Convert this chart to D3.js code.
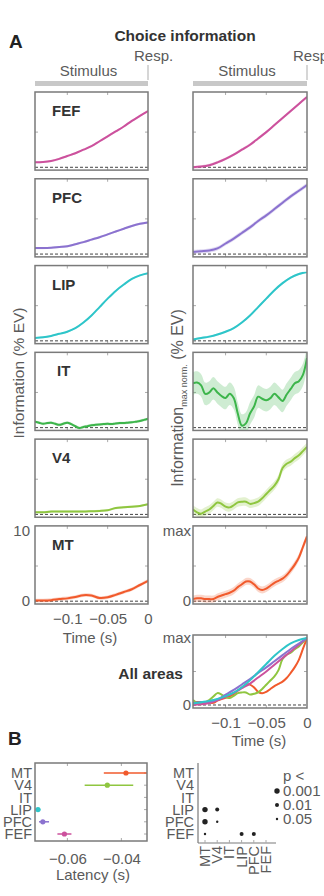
<!DOCTYPE html>
<html>
<head>
<meta charset="utf-8">
<script src="https://cdn.jsdelivr.net/npm/d3@7"></script>
<style>
  body { margin: 0; background: #fff; }
  text { font-family: "Liberation Sans", Arial, sans-serif; }
</style>
</head>
<body>
<svg id="chart" width="324" height="896"></svg>
<script>
// areas, top to bottom in panel A
var areas = ["FEF", "PFC", "LIP", "IT", "V4", "MT"];
var areaColors = ["#cc519d", "#8b72cf", "#2ec5c9", "#3db54b", "#8fc640", "#f15a2c"];

// time (s) relative to response
var timeCoarse = [-0.14, -0.13, -0.12, -0.11, -0.10, -0.09, -0.08, -0.07, -0.06, -0.05, -0.04, -0.03, -0.02, -0.01, 0];
var timeFine = [-0.14, -0.135, -0.13, -0.125, -0.12, -0.115, -0.11, -0.105, -0.10, -0.095, -0.09, -0.085, -0.08, -0.075,
    -0.07, -0.065, -0.06, -0.055, -0.05, -0.045, -0.04, -0.035, -0.03, -0.025, -0.02, -0.015, -0.01, -0.005, 0];
var timeTicks = [-0.1, -0.05, 0];

// choice information, % explained variance (left column)
var fefEV = [0.7, 0.75, 0.9, 1.2, 1.6, 2.0, 2.5, 3.0, 3.7, 4.4, 5.1, 5.8, 6.6, 7.3, 8.0];
var pfcEV = [0.85, 0.85, 0.9, 1.0, 1.1, 1.4, 1.7, 2.05, 2.4, 2.8, 3.2, 3.6, 4.0, 4.3, 4.5];
var lipEV = [0.4, 0.5, 0.7, 1.0, 1.3, 1.8, 2.6, 3.6, 4.8, 6.0, 7.1, 8.0, 8.8, 9.3, 9.6];
var itEV = [0.85, 0.7, 0.55, 0.65, 0.7, 0.55, 0.4, 0.55, 0.7, 0.5, 0.2, -0.05, 0.1, 0.2, 0.35,
    0.4, 0.45, 0.5, 0.55, 0.5, 0.6, 0.65, 0.65, 0.7, 0.75, 0.85, 0.95, 1.1, 1.25];
var v4EV = [0.3, 0.3, 0.4, 0.4, 0.4, 0.4, 0.4, 0.45, 0.5, 0.6, 0.9, 1.0, 1.1, 1.2, 1.45];
var mtEV = [0.1, 0.1, 0.15, 0.3, 0.4, 0.6, 0.85, 0.8, 0.45, 0.55, 0.9, 1.3, 1.7, 2.3, 2.9];
var bandEV = [0.15, 0.15, 0.12, 0.2, 0.15, 0.25];

// information normalised to its max (right column)
var fefNorm = [0, 0.01, 0.03, 0.07, 0.12, 0.18, 0.25, 0.32, 0.41, 0.5, 0.6, 0.7, 0.8, 0.9, 1.0];
var pfcNorm = [0.03, 0.04, 0.05, 0.08, 0.15, 0.22, 0.3, 0.38, 0.47, 0.55, 0.64, 0.73, 0.82, 0.9, 0.98];
var lipNorm = [0.02, 0.04, 0.06, 0.09, 0.13, 0.18, 0.26, 0.36, 0.48, 0.6, 0.72, 0.82, 0.9, 0.95, 0.98];
var itNorm = [0.63, 0.64, 0.6, 0.48, 0.5, 0.56, 0.5, 0.45, 0.42, 0.48, 0.42, 0.2, 0.03, 0.06, 0.2,
    0.3, 0.44, 0.41, 0.39, 0.42, 0.48, 0.43, 0.38, 0.47, 0.55, 0.63, 0.66, 0.75, 0.99];
var v4Norm = [0.07, 0.03, 0.01, 0.04, 0.07, 0.12, 0.17, 0.15, 0.11, 0.1, 0.13, 0.17, 0.18, 0.18, 0.15,
    0.16, 0.18, 0.23, 0.29, 0.35, 0.41, 0.5, 0.66, 0.72, 0.75, 0.8, 0.84, 0.9, 0.96];
var mtNorm = [0.03, 0.04, 0.04, 0.03, 0.03, 0.03, 0.06, 0.08, 0.1, 0.12, 0.15, 0.2, 0.24, 0.28, 0.28,
    0.24, 0.18, 0.16, 0.18, 0.22, 0.26, 0.29, 0.32, 0.37, 0.44, 0.52, 0.62, 0.77, 0.92];
var bandNorm = [0.02, 0.03, 0.015, 0.16, 0.06, 0.05];

// areas overlaid in the "All areas" panel, back to front
var allAreas = ["MT", "V4", "FEF", "PFC", "LIP"];

// panel B: latency (s), rows top to bottom
var latRows = ["MT", "V4", "IT", "LIP", "PFC", "FEF"];
var latencyMean = [-0.0383, -0.0452, null, -0.0709, -0.0691, -0.0611];
var latencyLo = [-0.0465, -0.0536, null, -0.0716, -0.0705, -0.0637];
var latencyHi = [-0.0280, -0.0356, null, -0.0700, -0.0668, -0.0585];
var latencyTicks = [-0.06, -0.04];

// panel B: pairwise latency differences
var sigRow = ["LIP", "LIP", "PFC", "PFC", "FEF", "FEF", "FEF"];
var sigCol = ["MT", "V4", "MT", "V4", "MT", "LIP", "PFC"];
var sigP = [0.001, 0.01, 0.001, 0.05, 0.05, 0.01, 0.01];
var legendP = [0.001, 0.01, 0.05];
var legendLabel = ["0.001", "0.01", "0.05"];

var textGray = "#5a5a5a";
var boxGray = "#7a7a7a";

var evSeries = {
    FEF: {t: timeCoarse, v: fefEV}, PFC: {t: timeCoarse, v: pfcEV}, LIP: {t: timeCoarse, v: lipEV},
    IT: {t: timeFine, v: itEV}, V4: {t: timeCoarse, v: v4EV}, MT: {t: timeCoarse, v: mtEV}
};
var normSeries = {
    FEF: {t: timeCoarse, v: fefNorm}, PFC: {t: timeCoarse, v: pfcNorm}, LIP: {t: timeCoarse, v: lipNorm},
    IT: {t: timeFine, v: itNorm}, V4: {t: timeFine, v: v4Norm}, MT: {t: timeFine, v: mtNorm}
};
var color = d3.scaleOrdinal().domain(areas).range(areaColors);
var plainFormat = d3.format("");

var svg = d3.select("#chart");

//scales for panel A
var xLeft = d3.scaleLinear().domain([-0.14, 0]).range([35, 148]);
var xRight = d3.scaleLinear().domain([-0.14, 0]).range([193, 307]);
var rowScale = d3.scaleBand().domain(areas).range([92, 604]).paddingInner(0.1);
var panelH = rowScale.bandwidth();
var yEV = d3.scaleLinear().domain([-0.4, 10.7]).range([panelH, 0]);
var yNorm = d3.scaleLinear().domain([-0.04, 1.07]).range([panelH, 0]);

var clipCount = 0;

//draws one time course panel: border, ticks, chance line, sem band and mean line
function drawPanel(g, x, y, h, list, midTick) {
    var x0 = x.range()[0], x1 = x.range()[1];
    var id = "clip" + (clipCount++);
    g.append("clipPath").attr("id", id)
        .append("rect")
        .attr("x", x0).attr("y", 0)
        .attr("width", x1 - x0).attr("height", h);

    //small inner ticks
    [-0.1, -0.05].forEach(function(t) {
        g.append("line").attr("x1", x(t)).attr("x2", x(t)).attr("y1", 0).attr("y2", 3)
            .attr("stroke", "#aaa").attr("stroke-width", 1);
        g.append("line").attr("x1", x(t)).attr("x2", x(t)).attr("y1", h).attr("y2", h - 3)
            .attr("stroke", "#aaa").attr("stroke-width", 1);
    });
    g.append("line").attr("x1", x0).attr("x2", x0 + 3).attr("y1", y(midTick)).attr("y2", y(midTick))
        .attr("stroke", "#aaa");
    g.append("line").attr("x1", x1).attr("x2", x1 - 3).attr("y1", y(midTick)).attr("y2", y(midTick))
        .attr("stroke", "#aaa");

    //chance level
    g.append("line")
        .attr("x1", x0).attr("x2", x1)
        .attr("y1", y(0)).attr("y2", y(0))
        .attr("stroke", "#444")
        .attr("stroke-width", 1)
        .attr("stroke-dasharray", "3,2");

    var inner = g.append("g").attr("clip-path", "url(#" + id + ")");
    list.forEach(function(s) {
        var pts = s.t.map(function(t, i) { return {t: t, v: s.v[i]}; });
        if (s.band) {
            inner.append("path")
                .datum(pts)
                .attr("fill", s.color)
                .attr("fill-opacity", 0.25)
                .attr("d", d3.area()
                    .curve(d3.curveCatmullRom)
                    .x(function(d) { return x(d.t); })
                    .y0(function(d) { return y(d.v - s.band); })
                    .y1(function(d) { return y(d.v + s.band); }));
        }
        inner.append("path")
            .datum(pts)
            .attr("fill", "none")
            .attr("stroke", s.color)
            .attr("stroke-width", 2)
            .attr("d", d3.line()
                .curve(d3.curveCatmullRom)
                .x(function(d) { return x(d.t); })
                .y(function(d) { return y(d.v); }));
    });

    g.append("rect")
        .attr("x", x0).attr("y", 0)
        .attr("width", x1 - x0).attr("height", h)
        .attr("fill", "none")
        .attr("stroke", boxGray)
        .attr("stroke-width", 1.5);
}

//header of panel A
svg.append("text").attr("x", 9).attr("y", 48)
    .attr("font-size", 19).attr("font-weight", "bold").attr("fill", "#222").text("A");
svg.append("text").attr("x", 185).attr("y", 41).attr("text-anchor", "middle")
    .attr("font-size", 15.5).attr("font-weight", "bold").attr("fill", "#333").text("Choice information");

[xLeft, xRight].forEach(function(x) {
    var x0 = x.range()[0], x1 = x.range()[1];
    svg.append("text").attr("x", (x0 + x1) / 2 - 3).attr("y", 76).attr("text-anchor", "middle")
        .attr("font-size", 15).attr("fill", textGray).text("Stimulus");
    svg.append("text").attr("x", x1 - 14).attr("y", 61)
        .attr("font-size", 15).attr("fill", textGray).text("Resp.");
    svg.append("line").attr("x1", x1).attr("x2", x1).attr("y1", 65).attr("y2", 80)
        .attr("stroke", "#c8c8c8").attr("stroke-width", 1.5);
    svg.append("rect").attr("x", x0).attr("y", 81).attr("width", x1 - x0).attr("height", 5)
        .attr("fill", "#c8c8c8");
});

//the six area panels, both columns
areas.forEach(function(a, i) {
    var top = rowScale(a);
    var gl = svg.append("g").attr("transform", "translate(0," + top + ")");
    drawPanel(gl, xLeft, yEV, panelH,
        [{t: evSeries[a].t, v: evSeries[a].v, band: bandEV[i], color: color(a)}], 5);
    gl.append("text").attr("x", xLeft(-0.14) + (a == "IT" ? 22 : 17)).attr("y", 24)
        .attr("font-size", 15).attr("font-weight", "bold").attr("fill", "#333").text(a);

    var gr = svg.append("g").attr("transform", "translate(0," + top + ")");
    drawPanel(gr, xRight, yNorm, panelH,
        [{t: normSeries[a].t, v: normSeries[a].v, band: bandNorm[i], color: color(a)}], 0.5);
});

//y ticks on the bottom (MT) panels
var mtTop = rowScale("MT");
var axL = svg.append("g").attr("transform", "translate(" + xLeft.range()[0] + "," + mtTop + ")")
    .call(d3.axisLeft(yEV).tickValues([0, 10]).tickSize(0).tickPadding(5));
var axR = svg.append("g").attr("transform", "translate(" + xRight.range()[0] + "," + mtTop + ")")
    .call(d3.axisLeft(yNorm).tickValues([0, 1]).tickSize(0).tickPadding(2)
        .tickFormat(function(d) { return d ? "max" : "0"; }));

//time axis under left column
var axT = svg.append("g").attr("transform", "translate(0," + (mtTop + panelH) + ")")
    .call(d3.axisBottom(xLeft).tickValues(timeTicks).tickFormat(plainFormat).tickSize(0).tickPadding(9));
svg.append("text").attr("x", 90).attr("y", 643).attr("text-anchor", "middle")
    .attr("font-size", 15).attr("fill", textGray).text("Time (s)");

//axis titles
svg.append("text").attr("transform", "translate(24,373) rotate(-90)").attr("text-anchor", "middle")
    .attr("font-size", 15.5).attr("fill", textGray).text("Information (% EV)");
var rt = svg.append("text").attr("transform", "translate(183,398) rotate(-90)").attr("text-anchor", "middle")
    .attr("font-size", 16).attr("fill", textGray);
rt.append("tspan").text("Information");
rt.append("tspan").attr("font-size", 9).attr("dy", 4).text("max norm.");
rt.append("tspan").attr("dy", -4).text("  (% EV)");

//all areas panel
var allTop = 635, allH = 73;
var yAll = d3.scaleLinear().domain([-0.045, 1.045]).range([allH, 0]);
var gAll = svg.append("g").attr("transform", "translate(0," + allTop + ")");
drawPanel(gAll, xRight, yAll, allH, allAreas.map(function(a) {
    var s = normSeries[a];
    var last = s.v[s.v.length - 1];
    return {t: s.t, v: s.v.map(function(v) { return v / last; }), color: color(a)};
}), 0.5);
var axAll = svg.append("g").attr("transform", "translate(" + xRight.range()[0] + "," + allTop + ")")
    .call(d3.axisLeft(yAll).tickValues([0, 1]).tickSize(0).tickPadding(2)
        .tickFormat(function(d) { return d ? "max" : "0"; }));
var axAllT = svg.append("g").attr("transform", "translate(0," + (allTop + allH) + ")")
    .call(d3.axisBottom(xRight).tickValues(timeTicks).tickFormat(plainFormat).tickSize(0).tickPadding(9));
svg.append("text").attr("x", 183).attr("y", 679).attr("text-anchor", "end")
    .attr("font-size", 15.5).attr("font-weight", "bold").attr("fill", "#333").text("All areas");
svg.append("text").attr("x", 259).attr("y", 746).attr("text-anchor", "middle")
    .attr("font-size", 15).attr("fill", textGray).text("Time (s)");

//panel B
svg.append("text").attr("x", 8).attr("y", 745)
    .attr("font-size", 19).attr("font-weight", "bold").attr("fill", "#222").text("B");

var latX = d3.scaleLinear().domain([-0.072, -0.0305]).range([35, 147]);
var latY = d3.scalePoint().domain(latRows).range([773, 834]);
var latTop = 763, latBottom = 841;

svg.append("clipPath").attr("id", "latclip").append("rect")
    .attr("x", 35).attr("y", latTop).attr("width", 112).attr("height", latBottom - latTop);

latencyTicks.forEach(function(t) {
    svg.append("line").attr("x1", latX(t)).attr("x2", latX(t)).attr("y1", latTop).attr("y2", latTop + 3)
        .attr("stroke", "#aaa");
    svg.append("line").attr("x1", latX(t)).attr("x2", latX(t)).attr("y1", latBottom).attr("y2", latBottom - 3)
        .attr("stroke", "#aaa");
});
latRows.forEach(function(r) {
    svg.append("line").attr("x1", 147).attr("x2", 144).attr("y1", latY(r)).attr("y2", latY(r))
        .attr("stroke", "#aaa");
});

var latG = svg.append("g").attr("clip-path", "url(#latclip)");
latRows.forEach(function(r, i) {
    if (latencyMean[i] == null) return;
    latG.append("line")
        .attr("x1", latX(latencyLo[i])).attr("x2", latX(latencyHi[i]))
        .attr("y1", latY(r)).attr("y2", latY(r))
        .attr("stroke", color(r)).attr("stroke-width", 1.5);
    latG.append("circle")
        .attr("cx", latX(latencyMean[i])).attr("cy", latY(r)).attr("r", 2.6)
        .attr("fill", color(r));
});
svg.append("rect").attr("x", 35).attr("y", latTop).attr("width", 112).attr("height", latBottom - latTop)
    .attr("fill", "none").attr("stroke", boxGray).attr("stroke-width", 1.5);

var axLatY = svg.append("g").attr("transform", "translate(35,0)")
    .call(d3.axisLeft(latY).tickSize(0).tickPadding(3));
var axLatX = svg.append("g").attr("transform", "translate(0," + latBottom + ")")
    .call(d3.axisBottom(latX).tickValues(latencyTicks).tickFormat(plainFormat).tickSize(0).tickPadding(12));
svg.append("text").attr("x", 93).attr("y", 880).attr("text-anchor", "middle")
    .attr("font-size", 15).attr("fill", textGray).text("Latency (s)");

//significance matrix
var sigX = d3.scalePoint().domain(latRows).range([205, 266]);
var pRadius = d3.scaleOrdinal().domain(legendP).range([2.7, 2.0, 1.2]);

svg.append("line").attr("x1", 198).attr("x2", 198).attr("y1", latTop).attr("y2", 843)
    .attr("stroke", boxGray).attr("stroke-width", 1.2);
svg.append("line").attr("x1", 198).attr("x2", 276).attr("y1", 843).attr("y2", 843)
    .attr("stroke", boxGray).attr("stroke-width", 1.2);
latRows.forEach(function(c) {
    svg.append("line").attr("x1", sigX(c)).attr("x2", sigX(c)).attr("y1", 843).attr("y2", 840)
        .attr("stroke", "#aaa");
});

sigP.forEach(function(p, i) {
    svg.append("circle")
        .attr("cx", sigX(sigCol[i])).attr("cy", latY(sigRow[i]))
        .attr("r", pRadius(p)).attr("fill", "#222");
});

var axSigY = svg.append("g").attr("transform", "translate(198,0)")
    .call(d3.axisLeft(latY).tickSize(0).tickPadding(4));
latRows.forEach(function(c) {
    svg.append("text")
        .attr("transform", "translate(" + (sigX(c) + 5) + ",846) rotate(-90)")
        .attr("text-anchor", "end")
        .attr("font-size", 14.5).attr("fill", textGray)
        .text(c);
});

//p value legend
svg.append("text").attr("x", 283).attr("y", 781)
    .attr("font-size", 15).attr("fill", textGray).text("p <");
legendP.forEach(function(p, i) {
    var yy = 791 + i * 14;
    svg.append("circle").attr("cx", 277).attr("cy", yy).attr("r", pRadius(p)).attr("fill", "#222");
    svg.append("text").attr("x", 283).attr("y", yy + 5)
        .attr("font-size", 15).attr("fill", textGray).text(legendLabel[i]);
});

//style all axes the same way
[axL, axR, axT, axAll, axAllT, axLatY, axLatX, axSigY].forEach(function(ax) {
    ax.select(".domain").remove();
    ax.selectAll("text")
        .attr("font-size", 15)
        .attr("fill", textGray)
        .style("font-family", '"Liberation Sans", Arial, sans-serif');
});
axLatY.selectAll("text").attr("font-size", 14.5);
axSigY.selectAll("text").attr("font-size", 14.5);
</script>
</body>
</html>
